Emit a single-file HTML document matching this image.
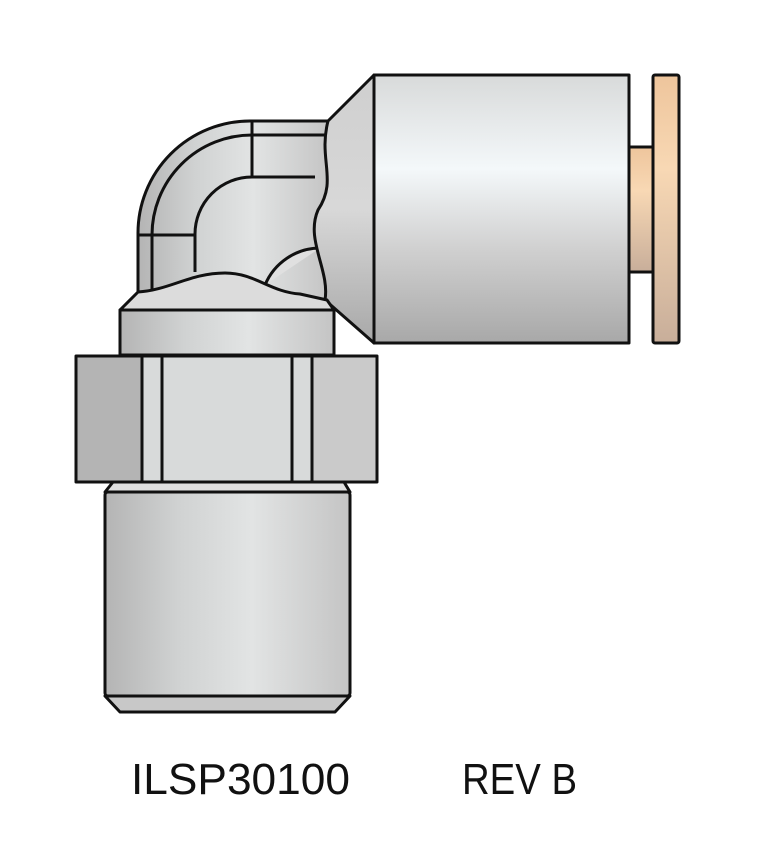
<!DOCTYPE html>
<html><head><meta charset="utf-8"><style>html,body{margin:0;padding:0;background:#fff}svg{display:block}</style></head>
<body>
<svg width="773" height="844" viewBox="0 0 773 844" xmlns="http://www.w3.org/2000/svg">
<defs>
<linearGradient id="hz" x1="0" x2="1" y1="0" y2="0">
<stop offset="0" stop-color="#b4b4b4"/><stop offset="0.3" stop-color="#d0d2d2"/><stop offset="0.6" stop-color="#e2e4e4"/><stop offset="1" stop-color="#c4c4c4"/>
</linearGradient>
<linearGradient id="vt" x1="0" x2="0" y1="0" y2="1">
<stop offset="0" stop-color="#d8dada"/><stop offset="0.35" stop-color="#f4f8fa"/><stop offset="0.65" stop-color="#d0d0d0"/><stop offset="1" stop-color="#a8a8a8"/>
</linearGradient>
<linearGradient id="cu" x1="0" x2="0" y1="0" y2="1">
<stop offset="0" stop-color="#eec59c"/><stop offset="0.35" stop-color="#f8d8b4"/><stop offset="1" stop-color="#c8ae9a"/>
</linearGradient>
<linearGradient id="cone" x1="0" x2="0" y1="0" y2="1">
<stop offset="0" stop-color="#cfcfcf"/><stop offset="0.5" stop-color="#d8d8d8"/><stop offset="1" stop-color="#a8a8a8"/>
</linearGradient>
</defs>
<g stroke="#111" stroke-width="3" stroke-linejoin="round">
<!-- elbow body -->
<path d="M328 121 L250 121 A112 112 0 0 0 138 233 L138 292 L330 300 L328 121 Z" fill="url(#hz)"/>
<path d="M328 135 L252 135 A100 100 0 0 0 152 235 L152 292" fill="none"/>
<path d="M252 121 L252 177 M315 177 L252 177 A57 57 0 0 0 195 234 L195 272 M138 235 L195 235" fill="none"/>
<path d="M320 248 A60 60 0 0 0 265 285" fill="#e0e0e0"/>
<!-- cone -->
<path d="M374 75 L328 121 C318 160 338 180 318 210 C305 240 330 270 325 300 L374 343 Z" fill="url(#cone)"/>
<!-- big cylinder -->
<rect x="374" y="75" width="255" height="268" fill="url(#vt)"/>
<!-- collet & flange -->
<rect x="629" y="147" width="24" height="125" fill="url(#cu)"/>
<rect x="653" y="75" width="26" height="268" rx="2" fill="url(#cu)"/>
<!-- neck -->
<path d="M138 292 C170 290 190 273 225 273 C255 273 270 292 300 294 L327 300 L334 310 L120 310 Z" fill="#dcdcdc"/>
<rect x="120" y="310" width="214" height="45" fill="url(#hz)"/>
<!-- hex nut -->
<rect x="76" y="356" width="301" height="126" rx="2" fill="#d8dada"/>
<rect x="76" y="356" width="66" height="126" fill="#b4b4b4"/>
<rect x="312" y="356" width="65" height="126" fill="#cacaca"/>
<path d="M142 356 V482 M162 356 V482 M292 356 V482 M312 356 V482" fill="none"/>
<!-- thread -->
<path d="M113 482 L344 482 L350 492 L105 492 Z" fill="#e0e0e0"/>
<rect x="105" y="492" width="245" height="204" rx="3" fill="url(#hz)"/>
<path d="M105 696 L350 696 L335 712 L120 712 Z" fill="#c8c8c8"/>
</g>
<g font-family="Liberation Sans, sans-serif" font-size="44" fill="#111">
<text x="131" y="794" textLength="219" lengthAdjust="spacingAndGlyphs">ILSP30100</text>
<text x="462" y="794" textLength="115" lengthAdjust="spacingAndGlyphs">REV B</text>
</g>
</svg>
</body></html>
